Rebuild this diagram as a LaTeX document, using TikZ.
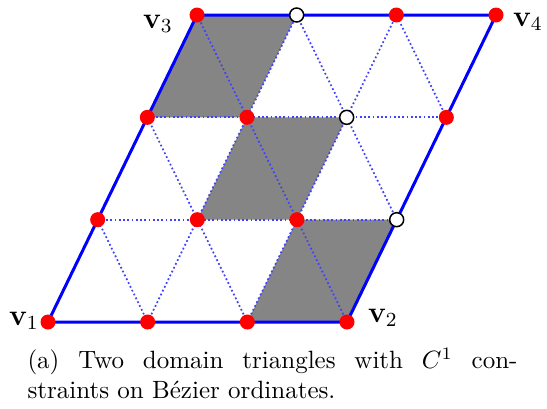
\documentclass[tikz,border=0pt]{standalone}
\usepackage{amsmath,amssymb}
\usepackage{xcolor}
\usepackage{tikz}
\usetikzlibrary{calc}
\definecolor{edgeblue}{HTML}{0000FF}
\definecolor{meshblue}{HTML}{4040FF}
\definecolor{patchgray}{HTML}{858585}
\definecolor{ordred}{HTML}{FF0000}

\begin{document}
\begin{tikzpicture}[
  x=0.4pt,y=-0.4pt,
  side/.style={draw=edgeblue,line width=1.2pt},
  mesh/.style={draw=meshblue,densely dotted,line width=0.7pt},
  patch/.style={fill=patchgray},
  ord/.style={circle,fill=ordred,inner sep=0pt,minimum size=6pt},
  hole/.style={circle,draw=black,fill=white,line width=0.6pt,inner sep=0pt,minimum size=5.6pt},
  lbl/.style={font=\large,inner sep=0pt}
]
\useasboundingbox (0,0) rectangle (547,408);
% control net
\foreach \i in {0,...,3}
  \foreach \j in {0,...,3}
    \coordinate (p\i\j) at ({48+99.67*\i+49.67*\j},{322-102.33*\j});
% shaded cells along the common edge
\foreach \a/\b/\c/\d in {02/12/13/03,11/21/22/12,20/30/31/21}
  \fill[patch] (p\a) -- (p\b) -- (p\c) -- (p\d) -- cycle;
\foreach \a/\b in {01/31,02/32,10/13,20/23,10/01,20/02,30/03,31/13,32/23}
  \draw[mesh] (p\a) -- (p\b);
\draw[side] (p00) -- (p30) -- (p33) -- (p03) -- cycle;
% ordinates
\foreach \n in {00,10,20,30,01,11,21,02,12,32,03,23,33}
  \node[ord] (d\n) at (p\n) {};
\foreach \n in {31,22,13}
  \node[hole] (d\n) at (p\n) {};
\node[lbl] (v1) at (24,321) {$\mathbf{v}_1$};
\node[lbl] (v2) at (383,318) {$\mathbf{v}_2$};
\node[lbl] (v3) at (158,24) {$\mathbf{v}_3$};
\node[lbl] (v4) at (528,22) {$\mathbf{v}_4$};
\node[text width=196pt,align=justify,anchor=north west,inner sep=0pt] (cap) at (27,348)
  {(a) Two domain triangles with $C^1$ con-\linebreak straints on B\'ezier ordinates.};
\end{tikzpicture}
\end{document}
